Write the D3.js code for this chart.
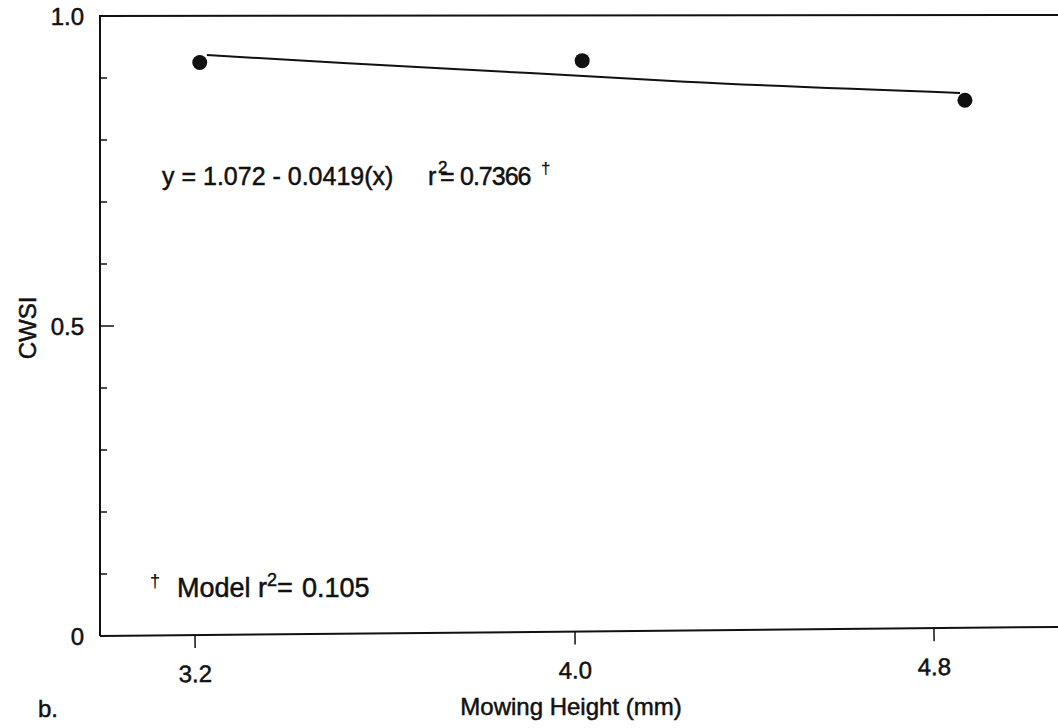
<!DOCTYPE html>
<html>
<head>
<meta charset="utf-8">
<script src="https://cdn.jsdelivr.net/npm/d3@7"></script>
<style>
  body { margin: 0; background: #fff; }
  text { font-family: "Liberation Sans", Arial, Helvetica, sans-serif; fill: #111; stroke: #111; stroke-width: 0.5px; }
</style>
</head>
<body>
<svg id="chart" width="1058" height="728"></svg>
<script>
// data
var heights = [3.21, 4.016, 4.869];       // mowing height (mm)
var cwsi = [0.925, 0.928, 0.864];         // observed CWSI
var fitX = [3.225, 3.512, 3.905, 4.246, 4.858];   // fitted line as drawn
var fitY = [0.937, 0.924, 0.908, 0.894, 0.876];
var xTicks = [3.2, 4.0, 4.8];
var xTickLabels = ["3.2", "4.0", "4.8"];
var yMinor = [0.1, 0.2, 0.3, 0.4, 0.6, 0.7, 0.8, 0.9];
var yLabelled = [0, 0.5, 1.0];
var yTickLabels = ["0", "0.5", "1.0"];

var svg = d3.select("#chart");
var plotLeft = 100, plotRight = 1058, plotTop = 16, plotBottom = 636;

// the scan is slightly stretched, so the x scale is piecewise
var x = d3.scaleLinear().domain([3.2, 4.0, 4.8]).range([195, 575, 934]);
var y = d3.scaleLinear().domain([0, 1]).range([plotBottom, plotTop]);

// top and left frame
svg.append("path")
  .attr("d", "M" + plotRight + "," + (plotTop - 1) + "L" + plotLeft + "," + plotTop + "V" + plotBottom)
  .attr("fill", "none")
  .attr("stroke", "#111")
  .attr("stroke-width", 2);

// x axis, tilted a little like the scanned page
var xg = svg.append("g")
  .attr("transform", "rotate(-0.54," + plotLeft + "," + plotBottom + ")");

xg.append("line")
  .attr("x1", plotLeft).attr("x2", plotRight + 5)
  .attr("y1", plotBottom).attr("y2", plotBottom)
  .attr("stroke", "#111")
  .attr("stroke-width", 2);

xg.selectAll(".xtick")
  .data(xTicks)
  .enter().append("line")
  .attr("x1", function (d) { return x(d); })
  .attr("x2", function (d) { return x(d); })
  .attr("y1", plotBottom)
  .attr("y2", plotBottom + 13)
  .attr("stroke", "#111")
  .attr("stroke-width", 1.5);

xg.selectAll(".xlab")
  .data(xTicks)
  .enter().append("text")
  .attr("x", function (d) { return x(d); })
  .attr("y", 683)
  .attr("text-anchor", "middle")
  .style("font-size", "24px")
  .text(function (d, i) { return xTickLabels[i]; });

// y ticks point inward
svg.selectAll(".ytick")
  .data(yMinor.concat([0.5]))
  .enter().append("line")
  .attr("x1", plotLeft)
  .attr("x2", function (d) { return d === 0.5 ? plotLeft + 14 : plotLeft + 7; })
  .attr("y1", function (d) { return y(d); })
  .attr("y2", function (d) { return y(d); })
  .attr("stroke", "#111")
  .attr("stroke-width", 1.5);

svg.selectAll(".ylab")
  .data(yLabelled)
  .enter().append("text")
  .attr("x", 84)
  .attr("y", function (d) { return y(d) + 9; })
  .attr("text-anchor", "end")
  .style("font-size", "24px")
  .text(function (d, i) { return yTickLabels[i]; });

// axis titles
svg.append("text")
  .attr("x", 571)
  .attr("y", 715)
  .attr("text-anchor", "middle")
  .style("font-size", "24px")
  .text("Mowing Height (mm)");

svg.append("text")
  .attr("transform", "translate(36,328) rotate(-90)")
  .attr("text-anchor", "middle")
  .style("font-size", "24px")
  .text("CWSI");

svg.append("text")
  .attr("x", 38)
  .attr("y", 717)
  .style("font-size", "24px")
  .text("b.");

// fitted line
var line = d3.line()
  .x(function (d) { return x(d[0]); })
  .y(function (d) { return y(d[1]); })
  .curve(d3.curveMonotoneX);

svg.append("path")
  .datum(d3.zip(fitX, fitY))
  .attr("d", line)
  .attr("fill", "none")
  .attr("stroke", "#111")
  .attr("stroke-width", 2);

// observed points
svg.selectAll(".pt")
  .data(d3.zip(heights, cwsi))
  .enter().append("circle")
  .attr("cx", function (d) { return x(d[0]); })
  .attr("cy", function (d) { return y(d[1]); })
  .attr("r", 7.5)
  .attr("fill", "#111");

// regression equation
var eq = svg.append("text")
  .attr("y", 185)
  .style("font-size", "25px");
eq.append("tspan").attr("x", 162).text("y = 1.072 - 0.0419(x)");
eq.append("tspan").attr("x", 428).text("r");
eq.append("tspan").attr("x", 438).attr("dy", -12).style("font-size", "17px").text("2");
eq.append("tspan").attr("x", 440).attr("dy", 12).text("=");
eq.append("tspan").attr("x", 460).style("letter-spacing", "-1px").text("0.7366");
eq.append("tspan").attr("x", 541).attr("dy", -11).style("font-size", "17px").style("stroke-width", "0.2px").text("\u2020");

// model r2 note
var note = svg.append("text")
  .attr("y", 597)
  .style("font-size", "27px");
note.append("tspan").attr("x", 150).attr("dy", -10).style("font-size", "18px").style("stroke-width", "0.2px").text("\u2020");
note.append("tspan").attr("x", 177).attr("dy", 10).text("Model");
note.append("tspan").attr("x", 258).text("r");
note.append("tspan").attr("x", 267).attr("dy", -11).style("font-size", "18px").text("2");
note.append("tspan").attr("x", 277).attr("dy", 11).text("=");
note.append("tspan").attr("x", 302).text("0.105");
</script>
</body>
</html>
